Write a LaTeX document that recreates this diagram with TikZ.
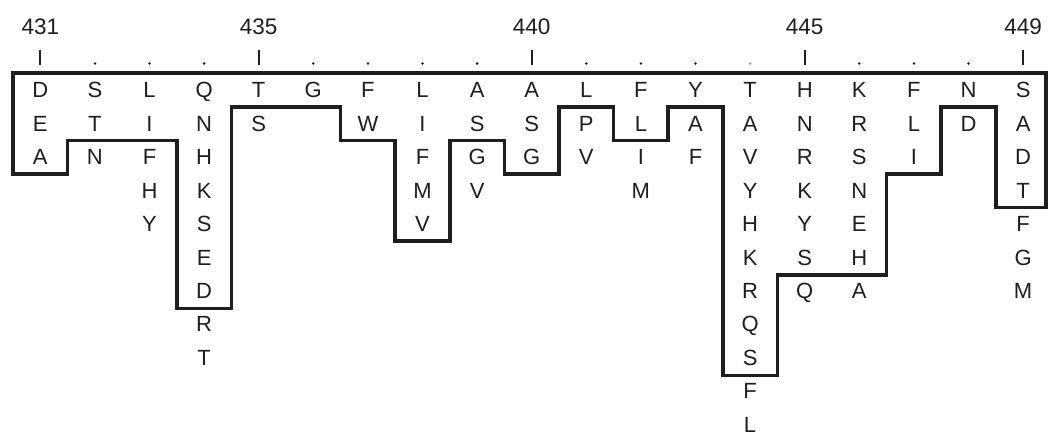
\documentclass[tikz,border=0pt]{standalone}
\usepackage{fontspec}
\setmainfont{Liberation Sans}
\definecolor{ink}{HTML}{1E1E1E}
\begin{document}
\begin{tikzpicture}[x=1pt,y=-1pt,
  res/.style={font=\fontsize{22}{26}\selectfont, text=ink, inner sep=0pt, anchor=base},
  num/.style={font=\fontsize{22.5}{26}\selectfont, text=ink, inner sep=0pt, anchor=base},
  outline/.style={draw=ink, line width=3.7pt, miter limit=10},
  tick/.style={draw=ink, line width=2pt},
  dotmark/.style={fill=ink, draw=none}]
\useasboundingbox (0,0) rectangle (1049,436);
% residues
\foreach \c/\letters in {0/{D,E,A},1/{S,T,N},2/{L,I,F,H,Y},3/{Q,N,H,K,S,E,D,R,T},4/{T,S},5/{G},6/{F,W},7/{L,I,F,M,V},8/{A,S,G,V},9/{A,S,G},10/{L,P,V},11/{F,L,I,M},12/{Y,A,F},13/{T,A,V,Y,H,K,R,Q,S,F,L},14/{H,N,R,K,Y,S,Q},15/{K,R,S,N,E,H,A},16/{F,L,I},17/{N,D},18/{S,A,D,T,F,G,M}}{
  \foreach \l [count=\r] in \letters {
    \node[res] (c\c-\r) at ({40.3+\c*54.6},{97.8+(\r-1)*33.45}) {\l};
  }
}
% position numbers
\foreach \c/\n in {0/431,4/435,9/440,14/445,18/449}{
  \node[num] (n\c) at ({40.3+\c*54.6},35) {\n};
  \draw[tick] ({40.3+\c*54.6},50) -- ({40.3+\c*54.6},65);
}
\foreach \c in {1,2,3,5,6,7,8,10,11,12,15,16,17}{
  \fill[dotmark] ({40.3+\c*54.6},63.5) circle (1.4);
}
\fill[ink!40] ({40.3+13*54.6},63.5) circle (1.4);
% conserved region outline
\draw[outline] (13,73.2) -- (1046,73.2) -- (1046,207.6) -- (995.8,207.6) -- (995.8,106.8)
  -- (941.2,106.8) -- (941.2,174) -- (886.6,174) -- (886.6,274.8) -- (777.4,274.8)
  -- (777.4,375.6) -- (722.8,375.6) -- (722.8,106.8) -- (668.2,106.8) -- (668.2,140.4)
  -- (613.6,140.4) -- (613.6,106.8) -- (559,106.8) -- (559,174) -- (504.4,174)
  -- (504.4,140.4) -- (449.8,140.4) -- (449.8,241.2) -- (395.2,241.2) -- (395.2,140.4)
  -- (340.6,140.4) -- (340.6,106.8) -- (231.4,106.8) -- (231.4,308.4) -- (176.8,308.4)
  -- (176.8,140.4) -- (67.6,140.4) -- (67.6,174) -- (13,174) -- cycle;
\end{tikzpicture}
\end{document}
